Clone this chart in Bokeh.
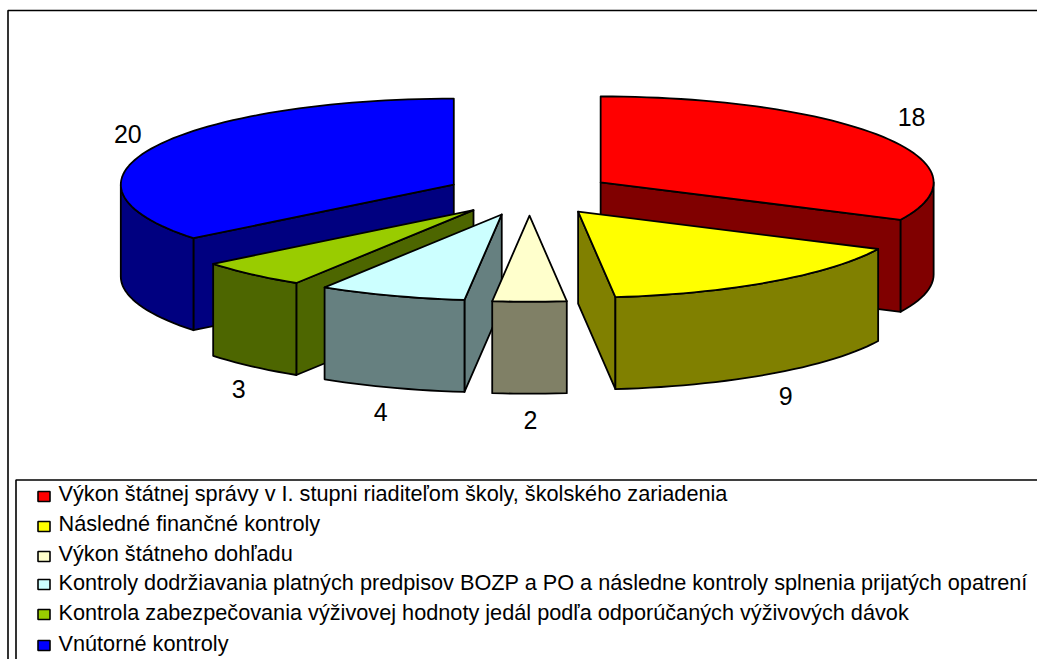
import math
from bokeh.plotting import figure
from bokeh.models import Range1d
from bokeh.core.properties import value
from bokeh.embed import file_html
from bokeh.resources import INLINE

categories = [
    "Výkon štátnej správy v I. stupni riaditeľom školy, školského zariadenia",
    "Následné finančné kontroly",
    "Výkon štátneho dohľadu",
    "Kontroly dodržiavania platných predpisov BOZP a PO a následne kontroly splnenia prijatých opatrení",
    "Kontrola zabezpečovania výživovej hodnoty jedál podľa odporúčaných výživových dávok",
    "Vnútorné kontroly",
]
values = [18, 9, 2, 4, 3, 20]
top_colors = ["#FF0000", "#FFFF00", "#FFFFCC", "#CCFFFF", "#99CC00", "#0000FF"]
side_colors = ["#800000", "#808000", "#808066", "#668080", "#4D6600", "#000080"]

# projection of the exploded 3D pie (page pixels)
CX, CY, RX, RY, DEPTH, EXPLODE = 529.0, 193.5, 333.0, 86.0, 92.0, 0.2523
LABEL_GAP = [(29, -20), (15, 22), (1, 26), (-11, 24), (-13, 23), (-26, -13)]
DRAW_ORDER = [0, 5, 4, 3, 2, 1]

W, H = 1037, 659
p = figure(width=W, height=H, output_backend="svg", toolbar_location=None,
           x_range=Range1d(0, W), y_range=Range1d(H, 0),
           min_border=0, outline_line_color=None, background_fill_color="white")
p.axis.visible = False
p.grid.visible = False


def rim(ax, ay, a):
    return ax + RX * math.sin(a), ay - RY * math.cos(a)


def arc(ax, ay, a0, a1):
    n = max(2, int(math.degrees(abs(a1 - a0)) / 2) + 2)
    return [rim(ax, ay, a0 + (a1 - a0) * i / (n - 1)) for i in range(n)]


total = sum(values)
starts, ends = [], []
acc = 0
for v in values:
    starts.append(2 * math.pi * acc / total)
    acc += v
    ends.append(2 * math.pi * acc / total)

xs, ys, fills = [], [], []


def face(points, colour):
    xs.append([q[0] for q in points])
    ys.append([q[1] for q in points])
    fills.append(colour)


lab_x, lab_y, lab_text = [], [], []
for i in range(len(values)):
    a0, a1 = starts[i], ends[i]
    mid = (a0 + a1) / 2
    ax = CX + EXPLODE * RX * math.sin(mid)
    ay = CY - EXPLODE * RY * math.cos(mid)
    lx, ly = rim(ax, ay, mid)
    front = math.pi / 2 < mid < 3 * math.pi / 2
    lab_x.append(lx + LABEL_GAP[i][0])
    lab_y.append(ly + (DEPTH if front else 0) + LABEL_GAP[i][1])
    lab_text.append(str(values[i]))

for i in DRAW_ORDER:
    a0, a1 = starts[i], ends[i]
    mid = (a0 + a1) / 2
    ax = CX + EXPLODE * RX * math.sin(mid)
    ay = CY - EXPLODE * RY * math.cos(mid)
    side = side_colors[i]
    for a, visible in ((a0, math.pi < a0 < 2 * math.pi), (a1, 0 < a1 < math.pi)):
        if visible:
            e = rim(ax, ay, a)
            face([(ax, ay), e, (e[0], e[1] + DEPTH), (ax, ay + DEPTH)], side)
    w0, w1 = max(a0, math.pi / 2), min(a1, 3 * math.pi / 2)
    if w1 > w0:
        top = arc(ax, ay, w0, w1)
        face(top + [(q[0], q[1] + DEPTH) for q in reversed(top)], side)
    face([(ax, ay)] + arc(ax, ay, a0, a1), top_colors[i])

p.patches(xs, ys, fill_color=fills, line_color="black", line_width=1.8, line_join="round")

p.text(lab_x, lab_y, text=lab_text, text_font=value("Liberation Sans"), text_font_size="25px",
       text_color="black", text_align="center", text_baseline="middle")

# chart frame and legend frame: open at the right and bottom
right, bottom = W, H
p.line([7.5, 7.5, right], [bottom, 10, 10], line_color="black", line_width=1.6)
p.line([15.5, 15.5, right], [bottom, 479.5, 479.5], line_color="black", line_width=1.6)

# legend
ROW_Y = [493, 523, 553, 582, 612, 643]
SWATCH_GAP = [3, 3, 3, 2, 2, 2]
p.rect([43.5] * 6, [y + g for y, g in zip(ROW_Y, SWATCH_GAP)], width=12, height=10, fill_color=top_colors,
       line_color="black", line_width=1.6)
p.text([58] * 6, ROW_Y, text=categories, text_font=value("Liberation Sans"), text_font_size="21.7px",
       text_color="black", text_align="left", text_baseline="middle")

open("out.html", "w").write(file_html(p, INLINE))
